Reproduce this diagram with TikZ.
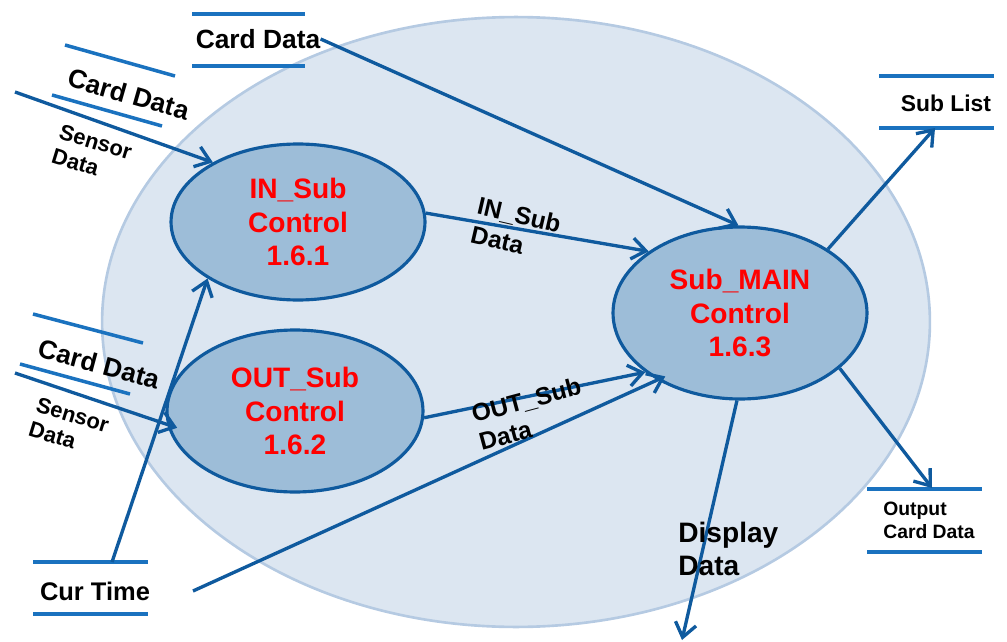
\documentclass[tikz,border=0pt]{standalone}
\usepackage{fontspec}
\setmainfont{Liberation Sans}
\usetikzlibrary{arrows.meta,shapes.geometric}
\definecolor{flow}{HTML}{0F5A9E}
\definecolor{store}{HTML}{1A72BF}
\definecolor{procfill}{HTML}{9DBDD8}
\definecolor{ctxfill}{HTML}{DCE6F1}
\definecolor{ctxline}{HTML}{B5CAE2}
\definecolor{proctext}{HTML}{FF0000}

\begin{document}
\begin{tikzpicture}[x=0.02cm,y=-0.02cm,
  proc/.style={ellipse, draw=flow, line width=1.8pt, fill=procfill,
    text=proctext, font=\fontsize{16}{19.3}\selectfont\bfseries,
    align=center, inner sep=0pt},
  flowarrow/.style={draw=flow, line width=1.9pt,
    -{Straight Barb[length=8pt,width=12pt,line width=1.9pt]}},
  storeline/.style={draw=store, line width=2pt},
  lbl/.style={inner sep=0pt, text=black},
  big/.style={font=\fontsize{15}{18}\selectfont\bfseries},
  mid/.style={font=\fontsize{14}{16.5}\selectfont\bfseries},
  small/.style={font=\fontsize{12.5}{14.5}\selectfont\bfseries},
]
\useasboundingbox (0,0) rectangle (1007,642);

% context bubble
\node[ellipse, draw=ctxline, line width=1.5pt, fill=ctxfill,
      minimum width=16.56cm, minimum height=12.2cm] (ctx) at (516,322) {};

% processes
\node[proc, minimum width=5.08cm, minimum height=3.12cm] (in)   at (298,222) {IN\_Sub\\Control\\1.6.1};
\node[proc, minimum width=5.12cm, minimum height=3.24cm] (out)  at (295,411) {OUT\_Sub\\Control\\1.6.2};
\node[proc, minimum width=5.08cm, minimum height=3.44cm] (main) at (740,313) {Sub\_MAIN\\Control\\1.6.3};

% data stores
\draw[storeline] (192,14) -- (305,14);
\draw[storeline] (192,66) -- (305,66);
\node[lbl, big] (cdtop) at (258,39) {Card Data};

\draw[storeline] (65,45) -- (175,76);
\draw[storeline] (52,95) -- (162,126);
\node[lbl, big, rotate=-16] (cdin) at (129,94) {Card Data};

\draw[storeline] (33,314) -- (143,343);
\draw[storeline] (20,364) -- (130,394);
\node[lbl, big, rotate=-15] (cdout) at (99,364) {Card Data};

\draw[storeline] (33,562) -- (148,562);
\draw[storeline] (33,614) -- (148,614);
\node[lbl, font=\fontsize{14.5}{17}\selectfont\bfseries] (ct) at (95,591) {Cur Time};

\draw[storeline] (879,76) -- (994,76);
\draw[storeline] (879,128) -- (994,128);
\node[lbl, font=\fontsize{13}{15}\selectfont\bfseries] (sl) at (946,103) {Sub List};

\draw[storeline] (867,489) -- (982,489);
\draw[storeline] (867,552) -- (982,552);
\node[lbl, font=\fontsize{11}{13}\selectfont\bfseries, align=left, anchor=north west] (ocd) at (883,502) {Output\\Card Data};

% free ends of flows
\coordinate (sen1) at (15,92);
\coordinate (sen2) at (15,373);
\coordinate (ctup) at (112,562);
\coordinate (ctright) at (193,591);
\coordinate (slin) at (935,128);
\coordinate (ocdin) at (932,488);
\coordinate (disp) at (682,640);

% flows
\draw[flowarrow] (cdtop.east) -- (main.91);
\draw[flowarrow] (sen1) -- (in.145);
\draw[flowarrow, shorten >=-6pt] (sen2) -- (out.186);
\draw[flowarrow] (ctup) -- (in.212);
\draw[flowarrow, shorten >=-5pt] (ctright) -- (main.219);
\draw[flowarrow] (in.4) -- (main.146);
\draw[flowarrow] (out.-3) -- (main.212);
\draw[flowarrow] (main.36) -- (slin);
\draw[flowarrow] (main.-29) -- (ocdin);
\draw[flowarrow] (main.-92) -- (disp);

% flow labels
\node[lbl, small, align=left, rotate=-17] at (92,154) {Sensor\\Data};
\node[lbl, small, align=left, rotate=-17] at (69,427) {Sensor\\Data};
\node[lbl, mid, align=left, rotate=-13] at (516,229) {IN\_Sub\\Data};
\node[lbl, mid, align=left, rotate=15] at (530,414) {OUT\_Sub\\Data};
\node[lbl, font=\fontsize{16}{18.7}\selectfont\bfseries, align=left, anchor=north west] at (678,522) {Display\\Data};
\end{tikzpicture}
\end{document}
